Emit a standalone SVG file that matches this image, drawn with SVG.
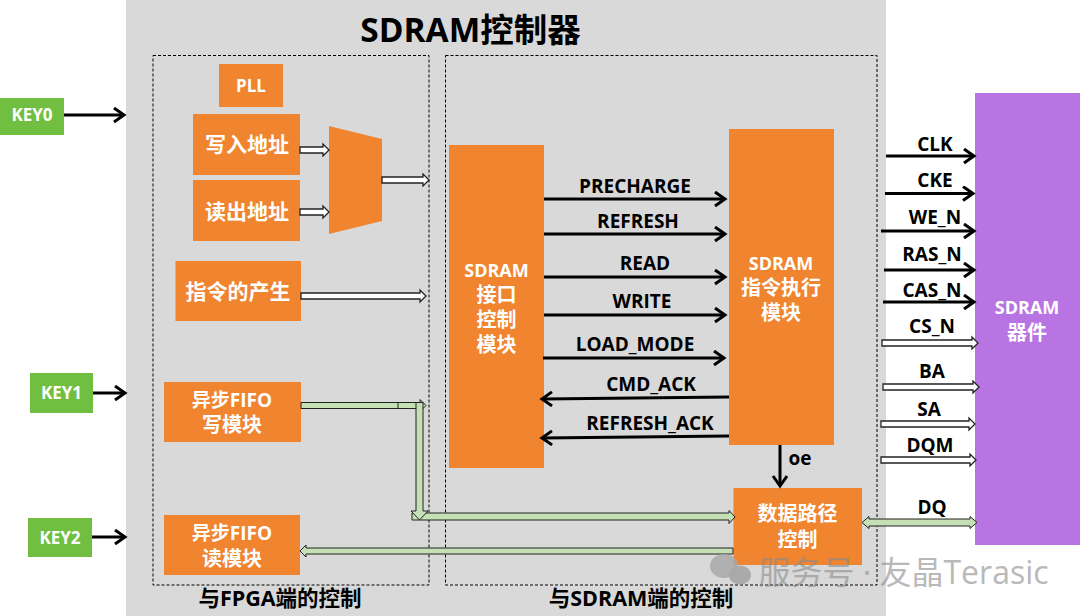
<svg xmlns="http://www.w3.org/2000/svg" width="1080" height="616" viewBox="0 0 1080 616">
<style>
text{font-family:"Open Sans","Noto Sans CJK SC",sans-serif;font-weight:700;text-anchor:middle}
.o{fill:#f0842f}
.w{fill:#fff;font-size:21px}
.s{font-size:18px}
.l{fill:#000;font-size:19px}
.h{fill:#000;font-size:21.500px}
.k{fill:#fff;font-size:17px}
.d{fill:none;stroke:#000;stroke-width:1;stroke-dasharray:3 2}
.a{fill:none;stroke:#000;stroke-width:3}
.b{fill:#fff;stroke:#222;stroke-width:1.300}
.g{fill:#c5e0b4;stroke:#222;stroke-width:1}
</style>
<defs>
<marker id="ah" markerUnits="userSpaceOnUse" markerWidth="18" markerHeight="18" refX="13" refY="8" orient="auto"><path d="M3 1L13 8L3 15" fill="none" stroke="#000" stroke-width="3"/></marker>
</defs>
<rect x="126" y="0" width="760" height="616" fill="#d9d9d9"/>
<text x="470.500" y="42" style="font-size:33.500px" fill="#000">SDRAM控制器</text>
<rect class="d" x="153" y="55.500" width="276" height="529.500"/>
<rect class="d" x="445.500" y="55.500" width="431.500" height="529.500"/>
<text class="h" x="280" y="606">与FPGA端的控制</text>
<text class="h" x="641" y="606">与SDRAM端的控制</text>

<g id="key0"><rect x="0" y="98" width="64" height="37" fill="#70bf41"/><text class="k" x="32" y="121">KEY0</text></g>
<g id="key1"><rect x="30" y="373" width="63" height="40" fill="#70bf41"/><text class="k" x="61.500" y="399">KEY1</text></g>
<g id="key2"><rect x="28" y="518" width="64" height="39" fill="#70bf41"/><text class="k" x="60" y="544">KEY2</text></g>
<g id="pll"><rect class="o" x="219" y="64" width="64" height="43"/><text class="k" x="251" y="92">PLL</text></g>
<g id="write-addr"><rect class="o" x="193" y="114" width="107" height="61"/><text class="w" x="247" y="152">写入地址</text></g>
<g id="read-addr"><rect class="o" x="193" y="180" width="107" height="61"/><text class="w" x="247" y="219">读出地址</text></g>
<g id="mux"><polygon class="o" points="329,126 382,139 382,221 329,234"/></g>
<g id="cmd-gen"><rect class="o" x="175.500" y="261" width="125.500" height="60"/><text class="w" x="238" y="299">指令的产生</text></g>
<g id="fifo-write"><rect class="o" x="164" y="382" width="137" height="60"/><text class="w s" x="232" y="407" style="font-size:19px">异步FIFO</text><text class="w" x="232" y="432" style="font-size:20px">写模块</text></g>
<g id="fifo-read"><rect class="o" x="164" y="515" width="136" height="60"/><text class="w s" x="232" y="540" style="font-size:19px">异步FIFO</text><text class="w" x="232" y="566" style="font-size:20px">读模块</text></g>
<g id="sdram-if"><rect class="o" x="449" y="145" width="95" height="323"/><text class="w" x="496.500" y="277" style="font-size:18px">SDRAM</text><text class="w" x="496.500" y="302" style="font-size:20px">接口</text><text class="w" x="496.500" y="327" style="font-size:20px">控制</text><text class="w" x="496.500" y="352" style="font-size:20px">模块</text></g>
<g id="sdram-exec"><rect class="o" x="729" y="129" width="105" height="316"/><text class="w" x="781" y="270" style="font-size:18px">SDRAM</text><text class="w" x="781" y="295" style="font-size:20px">指令执行</text><text class="w" x="781" y="320" style="font-size:20px">模块</text></g>
<g id="datapath"><rect class="o" x="733.500" y="488" width="128.500" height="77"/><text class="w" x="797.500" y="521" style="font-size:20px">数据路径</text><text class="w" x="797.500" y="547" style="font-size:20px">控制</text></g>
<g id="sdram-dev"><rect x="975" y="93" width="105" height="452" fill="#b974e4"/><text class="w" x="1027" y="314" style="font-size:18px">SDRAM</text><text class="w" x="1027" y="340" style="font-size:20px">器件</text></g>

<g id="connectors">
<line class="a" x1="64" y1="115" x2="124" y2="115" marker-end="url(#ah)"/>
<line class="a" x1="93" y1="393" x2="125" y2="393" marker-end="url(#ah)"/>
<line class="a" x1="92" y1="537" x2="125" y2="537" marker-end="url(#ah)"/>
<line class="a" x1="544" y1="199" x2="725" y2="199" marker-end="url(#ah)"/>
<line class="a" x1="544" y1="234" x2="725" y2="234" marker-end="url(#ah)"/>
<line class="a" x1="544" y1="277" x2="725" y2="277" marker-end="url(#ah)"/>
<line class="a" x1="544" y1="315" x2="725" y2="315" marker-end="url(#ah)"/>
<line class="a" x1="543" y1="358" x2="724" y2="358" marker-end="url(#ah)"/>
<line class="a" x1="729" y1="397" x2="542" y2="399" marker-end="url(#ah)"/>
<line class="a" x1="729" y1="436" x2="542" y2="438" marker-end="url(#ah)"/>
<line class="a" x1="780" y1="445" x2="780" y2="486" marker-end="url(#ah)"/>
<line class="a" x1="886" y1="156" x2="974" y2="156" marker-end="url(#ah)"/>
<line class="a" x1="885" y1="193.500" x2="973" y2="193.500" marker-end="url(#ah)"/>
<line class="a" x1="881" y1="231" x2="974" y2="231" marker-end="url(#ah)"/>
<line class="a" x1="884" y1="270" x2="974" y2="270" marker-end="url(#ah)"/>
<line class="a" x1="883" y1="302" x2="974" y2="302" marker-end="url(#ah)"/>
<polygon class="b" points="300,147 323,147 323,144 329,150 323,156 323,153 300,153"/>
<polygon class="b" points="300,209 323,209 323,206 329,212 323,218 323,215 300,215"/>
<polygon class="b" points="382,177 423,177 423,174 429,180 423,186 423,183 382,183"/>
<polygon class="b" points="301,293 420,293 420,290 426,296 420,302 420,299 301,299"/>
<polygon class="b" points="882,340 972,340 972,337 978,343 972,349 972,346 882,346"/>
<polygon class="b" points="883,384 973,384 973,381 979,387 973,393 973,390 883,390"/>
<polygon class="b" points="881,421 969,421 969,418 975,424 969,430 969,427 881,427"/>
<polygon class="b" points="881,457 970,457 970,454 976,460 970,466 970,463 881,463"/>
<polygon class="g" points="301,402.500 420,402.500 420,399.500 426,405.500 420,411.500 420,408.500 301,408.500"/>
<polygon class="g" points="412,513 729,513 729,510.500 735,517 729,523.500 729,520 412,520"/>
<polygon class="g" points="416,402.500 423,402.500 423,511 428,511 419.500,520 411,511 416,511"/>
<line x1="398" y1="402.500" x2="398" y2="408.500" stroke="#222"/>
<polygon class="g" points="733,548 306,548 306,545 300,551 306,557 306,554 733,554"/>
<polygon class="g" points="862,522.500 869,516.500 869,519 970,519 970,516.500 977,522.500 970,528.500 970,526 869,526 869,528.500"/>
</g>

<g id="labels">
<text class="l" x="635" y="193">PRECHARGE</text>
<text class="l" x="638" y="228">REFRESH</text>
<text class="l" x="645" y="270">READ</text>
<text class="l" x="642" y="308">WRITE</text>
<text class="l" x="635" y="351">LOAD_MODE</text>
<text class="l" x="651" y="391">CMD_ACK</text>
<text class="l" x="650" y="430">REFRESH_ACK</text>
<text class="l" x="800" y="465">oe</text>
<text class="l" x="935" y="151">CLK</text>
<text class="l" x="935" y="187">CKE</text>
<text class="l" x="935" y="224">WE_N</text>
<text class="l" x="932" y="261">RAS_N</text>
<text class="l" x="932" y="297">CAS_N</text>
<text class="l" x="932" y="333">CS_N</text>
<text class="l" x="932" y="378">BA</text>
<text class="l" x="929" y="416">SA</text>
<text class="l" x="930" y="452">DQM</text>
<text class="l" x="932" y="514">DQ</text>
</g>

<g id="watermark">
<ellipse cx="724" cy="566" rx="14" ry="12" fill="#a8a8a8" opacity="0.85"/>
<ellipse cx="740" cy="575" rx="11" ry="9.500" fill="#a8a8a8" opacity="0.95"/>
<text x="903.500" y="584" style="font-size:32px;font-weight:400" fill="#8c8c8c" opacity="0.6">服务号 · 友晶Terasic</text>
</g>
</svg>
